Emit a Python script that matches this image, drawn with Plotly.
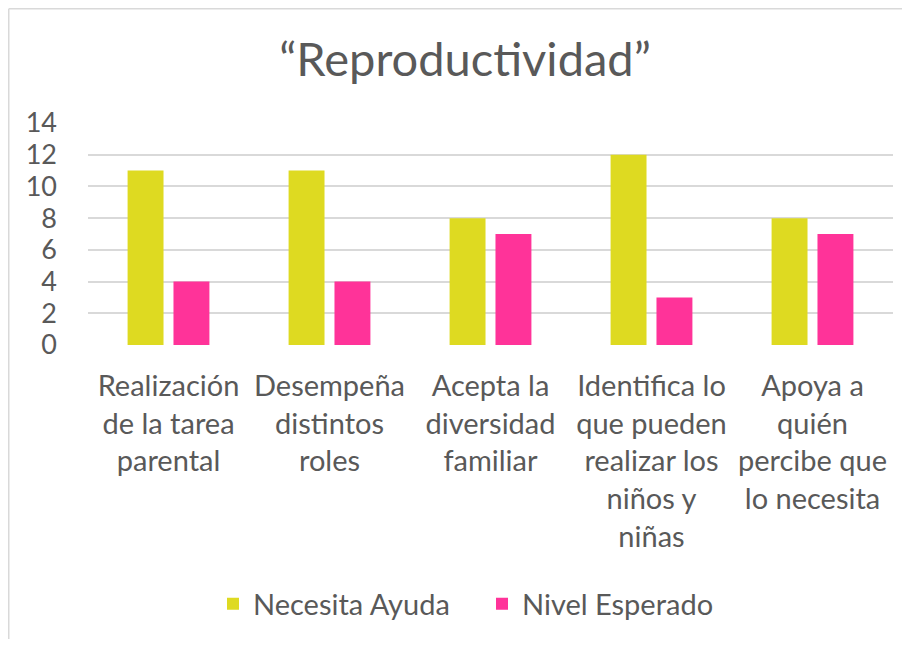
import plotly.graph_objects as go

categories = [
    "Realización<br>de la tarea<br>parental",
    "Desempeña<br>distintos<br>roles",
    "Acepta la<br>diversidad<br>familiar",
    "Identifica lo<br>que pueden<br>realizar los<br>niños y<br>niñas",
    "Apoya a<br>quién<br>percibe que<br>lo necesita",
]
necesita_ayuda = [11, 11, 8, 12, 8]
nivel_esperado = [4, 4, 7, 3, 7]
y_ticks = [0, 2, 4, 6, 8, 10, 12, 14]

TEXT = "#595959"
FONT = "Lato"

fig = go.Figure()
fig.add_trace(go.Bar(x=categories, y=necesita_ayuda, name="Necesita Ayuda",
                     marker=dict(color="#DEDA21", line=dict(width=0))))
fig.add_trace(go.Bar(x=categories, y=nivel_esperado, name="Nivel Esperado",
                     marker=dict(color="#FF3399", line=dict(width=0))))

OFF = 8  # page body margin
W, H = 910 - 2 * OFF, 647 - 2 * OFF
L = 88 - OFF
T = 123 - OFF
pw = 805
ph = 222
R = W - L - pw
B = H - T - ph

def px(x):
    return (x - OFF - L) / pw

def py(y):
    return (T + ph - (y - OFF)) / ph

fig.update_layout(
    width=W, height=H,
    margin=dict(l=L, r=R, t=T, b=B, autoexpand=False),
    paper_bgcolor="white", plot_bgcolor="white",
    font=dict(family=FONT, color=TEXT, size=28),
    barmode="group", bargap=0.43, bargroupgap=0.217,
    title=dict(text="“Reproductividad”", font=dict(size=47, color=TEXT, family=FONT),
               x=px(465), xref="paper", xanchor="center",
               y=1 - (60 - OFF) / H, yref="container", yanchor="middle"),
    showlegend=True,
    legend=dict(orientation="h", x=px(482), xanchor="center", y=py(604), yanchor="middle",
                font=dict(size=29, color=TEXT, family=FONT),
                entrywidth=224, entrywidthmode="pixels",
                traceorder="normal"),
    xaxis=dict(showgrid=False, showline=False, ticks="", tickfont=dict(size=29, color=TEXT),
               ticklabelstandoff=21),
    yaxis=dict(range=[0, 14], tickvals=y_ticks, showgrid=True, gridcolor="#D9D9D9",
               gridwidth=1.5, zeroline=False, showline=False, ticks="",
               tickfont=dict(size=27, color=TEXT), ticklabelstandoff=30),
    shapes=[
        dict(type="line", xref="paper", yref="paper", x0=px(8.75), x1=px(8.75), y0=py(8.75), y1=py(700),
             line=dict(color="#D9D9D9", width=1.5)),
        dict(type="line", xref="paper", yref="paper", x0=px(8.75), x1=px(960), y0=py(8.75), y1=py(8.75),
             line=dict(color="#D9D9D9", width=1.5)),
    ],
)

fig.write_html("out.html")
